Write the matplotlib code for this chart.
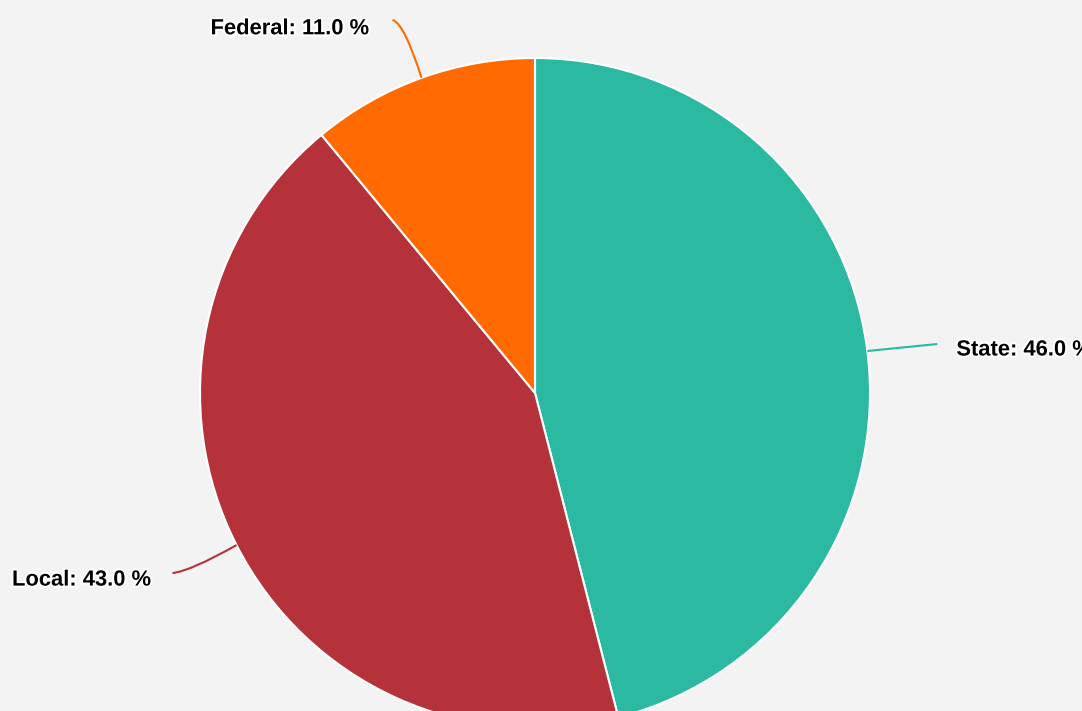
import numpy as np
import matplotlib
matplotlib.use("Agg")
import matplotlib.pyplot as plt
import matplotlib.patheffects as pe
from matplotlib.path import Path
from matplotlib.patches import PathPatch

categories = ["State", "Local", "Federal"]
values = [46.0, 43.0, 11.0]
colors = ["#2bb9a1", "#b5323a", "#ff6b00"]

W, H = 1082, 711
fig = plt.figure(figsize=(W / 100, H / 100), dpi=100, facecolor="#f3f3f3")
ax = fig.add_axes([0, 0, 1, 1])
ax.set_facecolor("#f3f3f3")

cx, cy, R = 535, H - 393, 335
wedges, _ = ax.pie(values, colors=colors, startangle=90, counterclock=False,
                   center=(cx, cy), radius=R, frame=True,
                   wedgeprops=dict(edgecolor="white", linewidth=1.5))
ax.set_xlim(0, W)
ax.set_ylim(0, H)
ax.set_aspect("equal")
ax.axis("off")

# label layout: (end offset dx, dy), control offset, text offset, alignment
layout = {
    "State":   dict(end=(70, 7), ctrl=None, toff=(19, -6), ha="left"),
    "Local":   dict(end=(-64, -28), ctrl=(-46, -26), toff=(-21, -7), ha="right"),
    "Federal": dict(end=(-29, 58), ctrl=(-17, 54), toff=(-23, -9), ha="right"),
}

for w, cat, val, col in zip(wedges, categories, values, colors):
    ang = np.deg2rad((w.theta1 + w.theta2) / 2)
    sx, sy = cx + R * np.cos(ang), cy + R * np.sin(ang)
    L = layout[cat]
    ex, ey = sx + L["end"][0], sy + L["end"][1]
    if L["ctrl"] is None:
        ax.plot([sx, ex], [sy, ey], color=col, lw=1.5, solid_capstyle="butt")
    else:
        qx, qy = sx + L["ctrl"][0], sy + L["ctrl"][1]
        p = Path([(sx, sy), (qx, qy), (ex, ey)], [Path.MOVETO, Path.CURVE3, Path.CURVE3])
        ax.add_patch(PathPatch(p, facecolor="none", edgecolor=col, lw=1.5))
    ax.text(ex + L["toff"][0], ey + L["toff"][1], f"{cat}: {val:.1f} %",
            ha=L["ha"], va="center", fontsize=15.8, fontweight="bold",
            family=["Liberation Sans", "DejaVu Sans"], color="black",
            path_effects=[pe.withStroke(linewidth=3, foreground="white")])

fig.savefig("out.png", dpi=100, facecolor=fig.get_facecolor())
